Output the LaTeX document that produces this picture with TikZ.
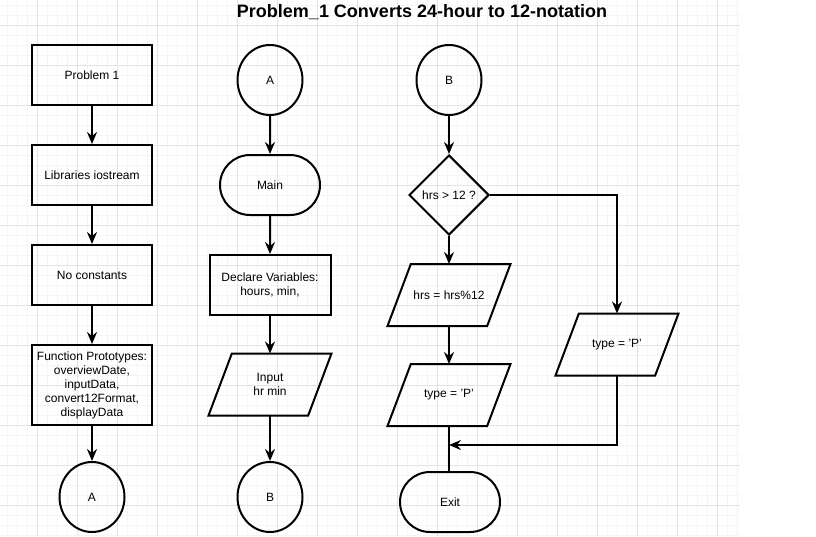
\documentclass[tikz,border=0pt]{standalone}
\usepackage{fontspec}
\setmainfont{Liberation Sans}
\usetikzlibrary{shapes.geometric,shapes.misc,arrows.meta}
\definecolor{gmajor}{HTML}{E4E4E4}
\definecolor{gminor}{HTML}{F5F5F5}
\tikzset{
  base/.style={draw=black, line width=1.5pt, font=\fontsize{9pt}{10.5pt}\selectfont, align=center, inner sep=0pt},
  procbox/.style={base, rectangle, minimum width=90pt, minimum height=45pt},
  conn/.style={base, ellipse, minimum width=48.75pt, minimum height=52.5pt},
  term/.style={base, rounded rectangle, minimum width=75pt, minimum height=45pt},
  decide/.style={base, diamond, minimum width=60pt, minimum height=60pt, aspect=1},
  iobox/.style={base, draw=none, rectangle, minimum width=90.75pt, minimum height=45pt},
  arr/.style={line width=1.5pt, -{Stealth[length=9pt,width=7.5pt,inset=3pt]}},
  ln/.style={line width=1.5pt},
}
\newcommand{\drawpara}[1]{\draw[line width=1.5pt, line join=miter] ([xshift=17.5pt]#1.north west) -- (#1.north east) -- ([xshift=-17.5pt]#1.south east) -- (#1.south west) -- cycle;}
\begin{document}
\begin{tikzpicture}[x=0.75pt,y=-0.75pt]
\useasboundingbox (0,0) rectangle (816,536);
% grid
\foreach \x in {7,17,...,737} \draw[gminor, line width=0.75pt] (\x,0) -- (\x,536);
\foreach \y in {5,15,...,535} \draw[gminor, line width=0.75pt] (0,\y) -- (740,\y);
\foreach \x in {37,77,...,717} \draw[gmajor, line width=0.75pt] (\x,0) -- (\x,536);
\foreach \y in {25,65,...,505} \draw[gmajor, line width=0.75pt] (0,\y) -- (740,\y);
% title
\node[font=\bfseries\fontsize{13.5pt}{16pt}\selectfont] (title) at (422,12) {Problem\_1 Converts 24-hour to 12-notation};
% column 1
\node[procbox] (p1) at (92,75) {Problem 1};
\node[procbox] (lib) at (92,175) {Libraries iostream};
\node[procbox] (noc) at (92,275) {No constants};
\node[procbox, minimum height=60pt] (fp) at (92,385) {Function Prototypes:\\overviewDate,\\inputData,\\convert12Format,\\displayData};
\node[conn] (a1) at (92,497) {A};
\draw[arr] (p1) -- (lib);
\draw[arr] (lib) -- (noc);
\draw[arr] (noc) -- (fp);
\draw[arr] (fp) -- (a1);
% column 2
\node[conn] (a2) at (270,80) {A};
\node[term] (main) at (270,185) {Main};
\node[procbox, minimum width=90.75pt] (decl) at (270,285) {Declare Variables:\\hours, min,};
\node[iobox] (inp) at (270,384.5) {Input\\hr min};
\drawpara{inp}
\node[conn] (b2) at (270,497) {B};
\draw[arr] (a2) -- (main);
\draw[arr] (main) -- (decl);
\draw[arr] (decl) -- (inp);
\draw[arr] (inp) -- (b2);
% column 3
\node[conn] (b3) at (449,80) {B};
\node[decide] (dec) at (449,195) {hrs > 12 ?};
\node[iobox] (hrs) at (449,295) {hrs = hrs\%12};
\drawpara{hrs}
\node[iobox] (tl) at (449,395) {type = 'P'};
\drawpara{tl}
\node[term] (exit) at (450,502) {Exit};
\node[iobox] (tr) at (617,344.5) {type = 'P'};
\drawpara{tr}
\coordinate (j) at (449,445);
\draw[arr] (b3) -- (dec);
\draw[arr] (dec) -- (hrs);
\draw[arr] (hrs) -- (tl);
\draw[ln] (tl.south) -- (tl.south |- exit.north);
\draw[arr] (dec.east) -| (tr.north);
\draw[arr] (tr.south) |- (j);
\end{tikzpicture}
\end{document}
